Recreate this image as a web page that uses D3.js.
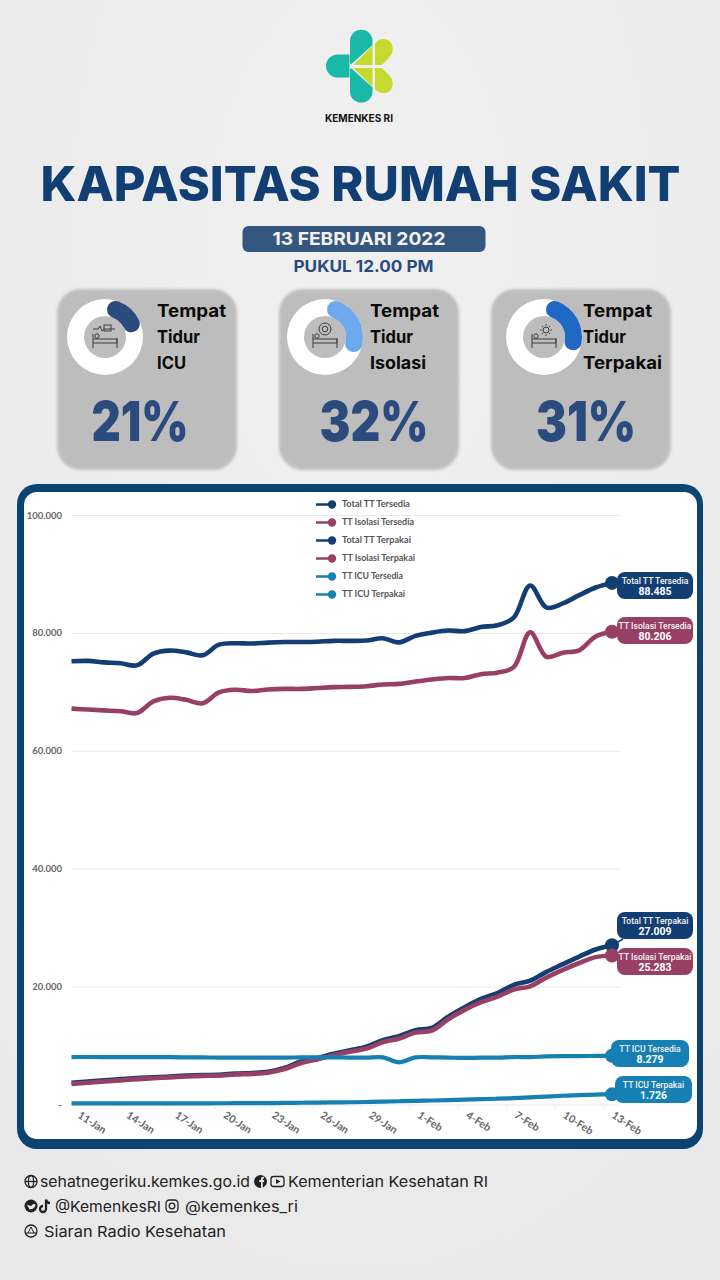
<!DOCTYPE html>
<html><head><meta charset="utf-8">
<script src="https://cdn.jsdelivr.net/npm/d3@7"></script>
<style>
html,body{margin:0;padding:0;background:#ededed;}
svg{display:block;}
text{font-family:Inter,"Open Sans",sans-serif;}
</style></head><body>
<svg id="c" width="720" height="1280"></svg>
<script>
const dates=["11-Jan","12-Jan","13-Jan","14-Jan","15-Jan","16-Jan","17-Jan","18-Jan","19-Jan","20-Jan","21-Jan","22-Jan","23-Jan","24-Jan","25-Jan","26-Jan","27-Jan","28-Jan","29-Jan","30-Jan","31-Jan","1-Feb","2-Feb","3-Feb","4-Feb","5-Feb","6-Feb","7-Feb","8-Feb","9-Feb","10-Feb","11-Feb","12-Feb","13-Feb"];
const tickDates=["11-Jan","14-Jan","17-Jan","20-Jan","23-Jan","26-Jan","29-Jan","1-Feb","4-Feb","7-Feb","10-Feb","13-Feb"];
const yTicks=[0,20000,40000,60000,80000,100000];
const totalTersedia=[75200,75250,75000,74850,74500,76500,77000,76700,76200,78000,78250,78200,78350,78450,78450,78500,78650,78650,78700,79100,78400,79500,80050,80400,80300,81000,81300,82600,88050,84300,85000,86400,87700,88485];
const isolasiTersedia=[67150,67000,66850,66700,66400,68400,69000,68650,68050,69900,70350,70150,70400,70500,70500,70650,70800,70850,70950,71250,71350,71750,72100,72350,72350,73000,73250,74200,80100,75950,76650,77050,79400,80206];
const totalTerpakai=[3700,3900,4100,4300,4500,4600,4750,4900,5000,5050,5250,5350,5550,6200,7300,7900,8600,9200,9800,10900,11600,12600,13000,14900,16500,17900,18900,20300,21000,22500,23800,25100,26300,27009];
const isolasiTerpakai=[3500,3700,3900,4100,4300,4450,4600,4750,4850,4900,5100,5200,5400,6000,7050,7650,8350,8950,9500,10550,11200,12200,12550,14450,16050,17350,18300,19500,20050,21550,22850,24000,25000,25283];
const icuTersedia=[8050,8060,8050,8040,8030,8030,8020,8000,8000,7950,7950,7950,7950,7950,8000,8000,8000,7950,7950,8000,7150,8000,8000,7950,7900,7950,7950,8050,8050,8150,8200,8200,8250,8279];
const icuTerpakai=[200,200,190,190,190,190,200,200,200,210,220,220,230,270,300,320,350,380,420,480,550,600,680,750,830,900,980,1080,1200,1350,1480,1600,1680,1726];
const seriesNames=["Total TT Tersedia","TT Isolasi Tersedia","Total TT Terpakai","TT Isolasi Terpakai","TT ICU Tersedia","TT ICU Terpakai"];
const seriesValues=[totalTersedia,isolasiTersedia,totalTerpakai,isolasiTerpakai,icuTersedia,icuTerpakai];
const seriesColors=["#123e73","#983f65","#123e73","#983f65","#1680b4","#1680b4"];
const labelX=[617,617,617,617,611,615];
const labelY=[572,617,912,948,1040,1076];
const labelW=[76,76,76,76,78,77];
const cardNames=[["Tempat","Tidur","ICU"],["Tempat","Tidur","Isolasi"],["Tempat","Tidur","Terpakai"]];
const cardPct=[21,32,31];
const cardColors=["#2b4a7d","#6ea8ef","#1f69c4"];
const fmt=v=>v===0?"-":d3.format(",")(v).replace(/,/g,".");

const svg=d3.select("#c");
const defs=svg.append("defs");
const grad=defs.append("radialGradient").attr("id","bg").attr("cx","50%").attr("cy","20%").attr("r","90%");
grad.append("stop").attr("offset","0%").attr("stop-color","#f0f0f0");
grad.append("stop").attr("offset","100%").attr("stop-color","#e9e9e9");
const blur=defs.append("filter").attr("id","soft").attr("x","-10%").attr("y","-10%").attr("width","120%").attr("height","120%");
blur.append("feGaussianBlur").attr("stdDeviation",1.5);
svg.append("rect").attr("width",720).attr("height",1280).attr("fill","url(#bg)");

// logo
const logo=svg.append("g");
const teal="#1ab8a8",lime="#c6d92e";
[
 ["M350 41a11.2 11.2 0 0 1 22.5 0V45L351 64.5L350 63Z",teal],
 ["M350 92a11.2 10.5 0 0 0 22.5 0V87.5L351 68L350 69.5Z",teal],
 ["M349.5 54.5H338a12 11.5 0 0 0 0 23H349.5Z",teal],
 ["M353.5 65L372.5 45.5V65Z",lime],
 ["M353.5 68H372.5V87Z",lime],
 ["M375 43.5C381 36 393 38 392.7 50C392.7 55 386 61 381.5 65H375Z",lime],
 ["M375 68H381.5C386 72 392.7 77 392.7 83C393 94 381 96 375 89Z",lime]
].forEach(d=>logo.append("path").attr("d",d[0]).attr("fill",d[1]));
svg.append("text").attr("x",359).attr("y",121.5).attr("text-anchor","middle").attr("font-size",10.5).attr("font-weight",700).attr("fill","#111").attr("textLength",68).attr("lengthAdjust","spacingAndGlyphs").text("KEMENKES RI");

// title
svg.append("text").attr("x",360.5).attr("y",200.5).attr("text-anchor","middle").attr("font-size",48).attr("font-weight",800).attr("fill","#113e73").attr("textLength",640).attr("lengthAdjust","spacingAndGlyphs").text("KAPASITAS RUMAH SAKIT");
svg.append("rect").attr("x",242.5).attr("y",226).attr("width",243).attr("height",26).attr("rx",6).attr("fill","#33577f");
svg.append("text").attr("x",359).attr("y",245).attr("text-anchor","middle").attr("font-size",18).attr("font-weight",700).attr("fill","#f2f2f2").attr("textLength",173).attr("lengthAdjust","spacingAndGlyphs").text("13 FEBRUARI 2022");
svg.append("text").attr("x",363.5).attr("y",272).attr("text-anchor","middle").attr("font-size",16).attr("font-weight",700).attr("fill","#2b4a7d").attr("textLength",140).attr("lengthAdjust","spacingAndGlyphs").text("PUKUL 12.00 PM");

// cards
const cardX=[57,279,491];
const textX=[157,370,583];
const pctX=[140,374,586];
const pctW=[97,109,100];
const nameW=[[69,43,29],[69,43,56],[69,43,79]];
const donutX=[105,325,544];
const arcBg=d3.arc().innerRadius(21).outerRadius(38).startAngle(0).endAngle(2*Math.PI);
const arcV=d3.arc().innerRadius(21).outerRadius(38).cornerRadius(8.5);
const pctScale=d3.scaleLinear().domain([0,100]).range([0,2*Math.PI]);
cardPct.forEach((p,i)=>{
  const g=svg.append("g");
  g.append("rect").attr("x",cardX[i]).attr("y",289).attr("width",180).attr("height",181).attr("rx",24).attr("fill","#bdbdbd").attr("filter","url(#soft)");
  const dn=g.append("g").attr("transform",`translate(${donutX[i]},337)`);
  dn.append("path").attr("d",arcBg()).attr("fill","#fff");
  dn.append("path").attr("d",arcV({startAngle:pctScale(1.2),endAngle:pctScale(p+1.2)})).attr("fill",cardColors[i]);
  // bed icon
  const ic=dn.append("g").attr("fill","none").attr("stroke","#3c3c3c").attr("stroke-width",1);
  ic.append("path").attr("d","M-12 -3V11M-12 6H12M12 1V11M-12 2H12V6");
  ic.append("circle").attr("cx",-8).attr("cy",-1).attr("r",2.2);
  if(i===0){ic.append("path").attr("d","M-12 -8H-7L-5 -11L-3 -6L-1 -8H10");ic.append("rect").attr("x",-1).attr("y",-12).attr("width",7).attr("height",6);}
  if(i===1){ic.append("circle").attr("cx",0).attr("cy",-8).attr("r",6);ic.append("circle").attr("cx",0).attr("cy",-8).attr("r",2.8);}
  if(i===2){ic.append("circle").attr("cx",2).attr("cy",-7).attr("r",3);ic.append("path").attr("d","M2 -13V-11.5M2 -2.5V-1M-4 -7H-2.5M6.5 -7H8M-2 -11L-1 -10M5 -4L6 -3M6 -11L5 -10M-2 -3L-1 -4");}
  cardNames[i].forEach((t,k)=>{
    g.append("text").attr("x",textX[i]).attr("y",317+26*k).attr("font-size",17.5).attr("font-weight",700).attr("fill","#0a0a0a").attr("textLength",nameW[i][k]).attr("lengthAdjust","spacingAndGlyphs").text(t);
  });
  g.append("text").attr("x",pctX[i]).attr("y",441).attr("text-anchor","middle").attr("font-size",55).attr("font-weight",900).attr("fill","#2b4a7d").attr("textLength",pctW[i]).attr("lengthAdjust","spacingAndGlyphs").text(p+"%");
});

// chart frame
svg.append("rect").attr("x",17).attr("y",484).attr("width",686).attr("height",665).attr("rx",20).attr("fill","#0b4473");
svg.append("rect").attr("x",24).attr("y",492).attr("width",673).attr("height",647).attr("rx",13).attr("fill","#fff");

// scales
const x=d3.scalePoint().domain(dates).range([71.5,612]);
const xLabels=d3.scaleBand().domain(dates).range([70,620]);
const y=d3.scaleLinear().domain([0,100000]).range([1104.5,515]);

const gy=svg.append("g").attr("transform","translate(72,0)").call(d3.axisLeft(y).tickValues(yTicks).tickFormat(fmt).tickSize(0).tickPadding(10));
gy.select(".domain").remove();
gy.selectAll("text").attr("font-size",9.5).attr("font-weight",700).attr("fill","#666").style("font-family","Lato,sans-serif");
gy.selectAll(".tick").append("line").attr("x1",0).attr("x2",548).attr("stroke","#e8e8e8").attr("stroke-width",1);

const gx=svg.append("g").attr("transform","translate(0,1105)").call(d3.axisBottom(xLabels).tickValues(tickDates).tickSize(4).tickPadding(8));
gx.select(".domain").remove();
gx.selectAll("line").attr("stroke","#eeeeee").attr("transform",`translate(${-xLabels.bandwidth()/2},0)`);
gx.selectAll("text").attr("font-size",10.5).attr("font-weight",700).attr("fill","#666").style("font-family","Lato,sans-serif")
  .attr("text-anchor","start").attr("y",0).attr("dy","0.35em").attr("transform","translate(1,9) rotate(33)");

// lines
const line=d3.line().x((d,i)=>x(dates[i])).y(d=>y(d)).curve(d3.curveCatmullRom.alpha(0.5));
seriesValues.forEach((vals,k)=>{
  svg.append("path").attr("d",line(vals)).attr("fill","none").attr("stroke",seriesColors[k]).attr("stroke-width",k<4?4.6:4.2).attr("stroke-linejoin","round");
});

// legend
seriesNames.forEach((n,k)=>{
  const ly=503.5+18*k;
  svg.append("line").attr("x1",316).attr("x2",332).attr("y1",ly+1).attr("y2",ly+1).attr("stroke",seriesColors[k]).attr("stroke-width",2.5);
  svg.append("circle").attr("cx",332).attr("cy",ly+1).attr("r",4.2).attr("fill",seriesColors[k]);
  svg.append("text").attr("x",342).attr("y",ly+3).attr("font-size",8.5).attr("font-weight",700).attr("fill","#555").style("font-family","Lato,sans-serif").attr("textLength",[68,72,69,73,61,63][k]).attr("lengthAdjust","spacingAndGlyphs").text(n);
});

// end labels
seriesNames.forEach((n,k)=>{
  const vals=seriesValues[k],v=vals[vals.length-1],c=seriesColors[k];
  const ex=x(dates[dates.length-1]),ey=y(v);
  const g=svg.append("g");
  g.append("rect").attr("x",labelX[k]).attr("y",labelY[k]).attr("width",labelW[k]).attr("height",27).attr("rx",8).attr("fill",c);
  const ly=Math.max(labelY[k],Math.min(labelY[k]+27,ey));
  g.append("line").attr("x1",ex).attr("y1",ey).attr("x2",labelX[k]+6).attr("y2",ly).attr("stroke",c).attr("stroke-width",1.5);
  g.append("circle").attr("cx",ex).attr("cy",ey).attr("r",7).attr("fill",c);
  const cx=labelX[k]+labelW[k]/2;
  g.append("text").attr("x",cx).attr("y",labelY[k]+11.5).attr("text-anchor","middle").attr("font-size",8.6).attr("font-weight",500).attr("fill","#f4f4f4").style("font-family","Roboto,sans-serif").text(n);
  g.append("text").attr("x",cx).attr("y",labelY[k]+23).attr("text-anchor","middle").attr("font-size",10.5).attr("font-weight",700).attr("fill","#fff").style("font-family","Roboto,sans-serif").text(fmt(v));
});

// footer
const foot=[["sehatnegeriku.kemkes.go.id",40,1187,210],["Kementerian Kesehatan RI",288,1187,200],["@KemenkesRI",55,1211.5,106],["@kemenkes_ri",185,1211.5,113],["Siaran Radio Kesehatan",44,1236.5,182]];
foot.forEach(f=>svg.append("text").attr("x",f[1]).attr("y",f[2]).attr("font-size",15).attr("fill","#222").attr("textLength",f[3]).attr("lengthAdjust","spacingAndGlyphs").text(f[0]));
const fi=svg.append("g").attr("fill","none").attr("stroke","#222").attr("stroke-width",1.3);
fi.append("circle").attr("cx",31).attr("cy",1181.5).attr("r",6);
fi.append("ellipse").attr("cx",31).attr("cy",1181.5).attr("rx",2.6).attr("ry",6);
fi.append("path").attr("d","M25 1181.5H37");
svg.append("circle").attr("cx",260.5).attr("cy",1181.5).attr("r",6.5).attr("fill","#222");
svg.append("path").attr("d","M261 1188V1182H259.2V1180H261V1178.8C261 1177.2 262 1176.5 264 1176.8V1178.4C262.9 1178.3 262.8 1178.6 262.8 1179.2V1180H264.2L264 1182H262.8V1188Z").attr("fill","#e8e8e8");
fi.append("rect").attr("x",271).attr("y",1176.5).attr("width",13).attr("height",10).attr("rx",2.5);
svg.append("path").attr("d","M276 1179L280.5 1181.5L276 1184Z").attr("fill","#222");
svg.append("circle").attr("cx",31).attr("cy",1206).attr("r",6.5).attr("fill","#222");
svg.append("path").attr("d","M27 1204.5C29 1206 31 1206 32 1205.5C32.5 1203.5 35 1203.5 35.5 1205C35 1208 32 1210 29 1209C30 1208.5 27.5 1207 27 1204.5Z").attr("fill","#e8e8e8");
fi.append("path").attr("d","M46 1199.5V1209A3 3 0 1 1 43 1206M46 1199.5C46.5 1202 48 1203 50 1203").attr("stroke-width",2.3);
fi.append("rect").attr("x",166).attr("y",1200).attr("width",12).attr("height",12).attr("rx",3.5);
fi.append("circle").attr("cx",172).attr("cy",1206).attr("r",2.8);
fi.append("circle").attr("cx",31).attr("cy",1231).attr("r",6);
fi.append("path").attr("d","M26 1233H36M28 1233L31 1227L34 1233").attr("stroke-width",1);
</script>
</body></html>
